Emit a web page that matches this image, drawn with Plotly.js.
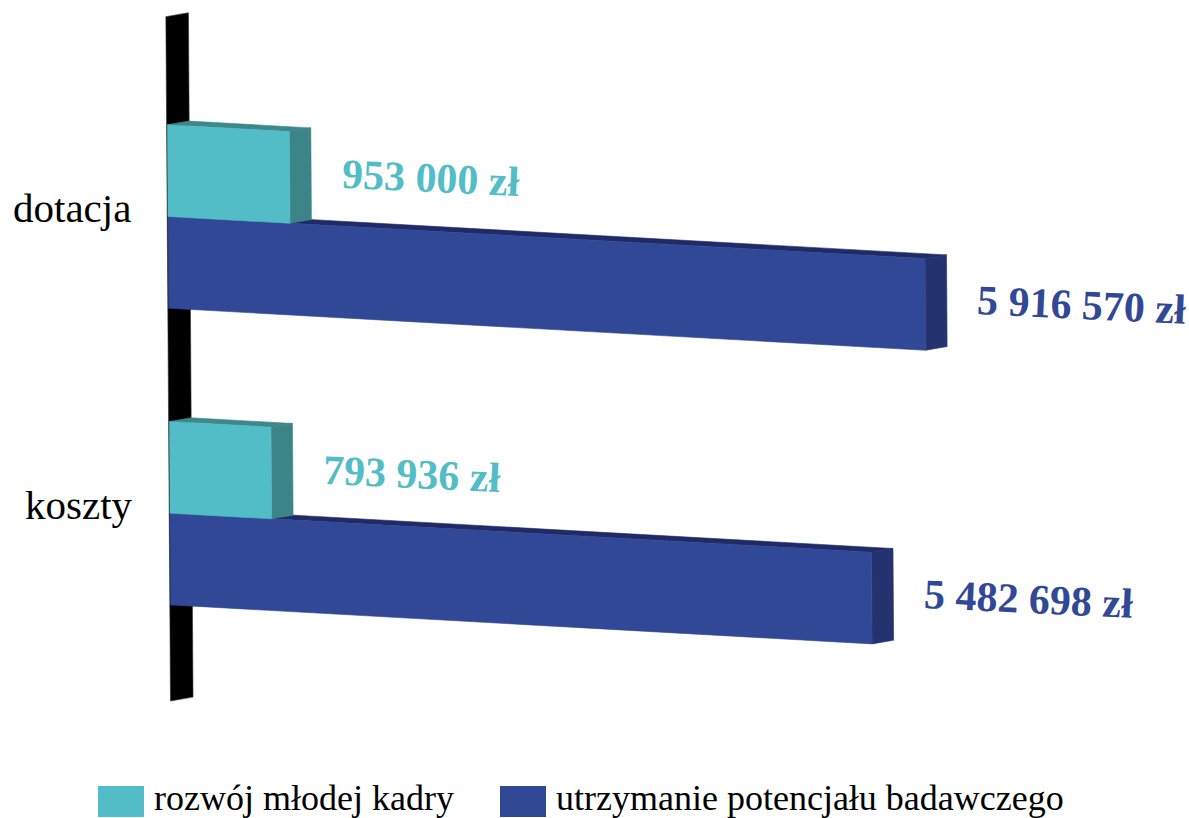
<!DOCTYPE html>
<html><head><meta charset="utf-8">
<script src="https://cdn.plot.ly/plotly-3.0.1.min.js"></script>
<style>html,body{margin:0;padding:0;background:#fff}#chart{width:1189px;height:818px}</style>
</head><body><div id="chart"></div>
<script>
// ---- data ----
const categories = ['dotacja', 'koszty'];
const seriesNames = ['rozwój młodej kadry', 'utrzymanie potencjału badawczego'];
const mlodaKadra = [953000, 793936];
const potencjal = [5916570, 5482698];
const seriesValues = [mlodaKadra, potencjal];

// ---- style ----
const FRONT = ['#52BDC6', '#314896'];
const SIDE = ['#3B8589', '#253270'];
const TOP = ['#3E878B', '#1F2A66'];
const TEXTCOL = ['#52BDC6', '#314896'];
const SERIF = 'Liberation Serif, Times New Roman, serif';

// ---- pseudo-3D view ----
const W = 1189, H = 818;
const K = 757 / 5916570;   // px per zł
const CAT = 296.7;         // px per category
const X0 = 168, Y0 = 216.5;
const SHEAR_Y = 0.0556;    // y px per x px
const SHEAR_X = 2.0;       // x px per category
const DX = 21.5, DY = -3.7;
const BAR = 91.7 / CAT;
const WALL_TOP = -0.6734, WALL_BOTTOM = 1.633, WALL_V = -0.8 / K, WALL_D = 1.05;

function pt(v, c, d) {
  return [v + (c * SHEAR_X + d * DX) / K, c + (v * K * SHEAR_Y + d * DY) / CAT];
}
function poly(points, fill, line) {
  const xs = points.map(p => p[0]), ys = points.map(p => p[1]);
  xs.push(xs[0]); ys.push(ys[0]);
  return {x: xs, y: ys, type: 'scatter', mode: 'lines', fill: 'toself', fillcolor: fill,
    line: {width: 0.6, color: line || fill}, hoverinfo: 'skip', showlegend: false};
}
function fmt(v) { return String(v).replace(/\B(?=(\d{3})+(?!\d))/g, ' ') + ' zł'; }

const traces = [];
// wall
traces.push(poly([pt(WALL_V, WALL_TOP, 0), pt(WALL_V, WALL_TOP, WALL_D), pt(WALL_V, WALL_BOTTOM, WALL_D), pt(WALL_V, WALL_BOTTOM, 0)], '#000000', '#333333'));

const annotations = [];
categories.forEach((cat, i) => {
  // draw blue (series 1) first, then cyan (series 0) on top
  [1, 0].forEach(s => {
    const v = seriesValues[s][i];
    const c1 = s === 0 ? i - BAR : i;
    const c2 = c1 + BAR;
    traces.push(poly([pt(0, c1, 0), pt(v, c1, 0), pt(v, c1, 1), pt(0, c1, 1)], TOP[s]));
    traces.push(poly([pt(v, c1, 0), pt(v, c1, 1), pt(v, c2, 1), pt(v, c2, 0)], SIDE[s]));
    traces.push(poly([pt(0, c1, 0), pt(v, c1, 0), pt(v, c2, 0), pt(0, c2, 0)], FRONT[s]));
    const m = pt(v, (c1 + c2) / 2, 0);
    annotations.push({xref: 'x', yref: 'y', x: m[0] + 49 / K, y: m[1], xanchor: 'left', yanchor: 'middle',
      text: fmt(v), showarrow: false, textangle: 2.7, yshift: -1,
      font: {family: SERIF, size: 42, color: TEXTCOL[s], weight: 'bold'}});
  });
  const l = pt(WALL_V, i, 0);
  annotations.push({xref: 'x', yref: 'y', x: l[0] - 34 / K, y: l[1], xanchor: 'right', yanchor: 'middle',
    text: cat, showarrow: false, yshift: 8, font: {family: SERIF, size: 41, color: '#000'}});
});

// legend (drawn manually)
const legendX = [98, 500];
const shapes = [];
seriesNames.forEach((name, s) => {
  shapes.push({type: 'rect', xref: 'paper', yref: 'paper', x0: legendX[s] / W, x1: (legendX[s] + 46) / W,
    y0: 1 - 817 / H, y1: 1 - 786 / H, fillcolor: FRONT[s], line: {width: 0}});
  annotations.push({xref: 'paper', yref: 'paper', x: (legendX[s] + 54) / W, y: 1 - 798 / H, xanchor: 'left', yanchor: 'middle',
    text: name, showarrow: false, font: {family: SERIF, size: 36, color: '#000'}});
});

const layout = {
  width: W, height: H, margin: {l: 0, r: 0, t: 0, b: 0}, paper_bgcolor: '#fff', plot_bgcolor: '#fff',
  xaxis: {range: [-X0 / K, (W - X0) / K], visible: false, fixedrange: true},
  yaxis: {range: [(H - Y0) / CAT, -Y0 / CAT], visible: false, fixedrange: true},
  showlegend: false, annotations: annotations, shapes: shapes
};
Plotly.newPlot('chart', traces, layout, {staticPlot: true, displayModeBar: false});
</script></body></html>
